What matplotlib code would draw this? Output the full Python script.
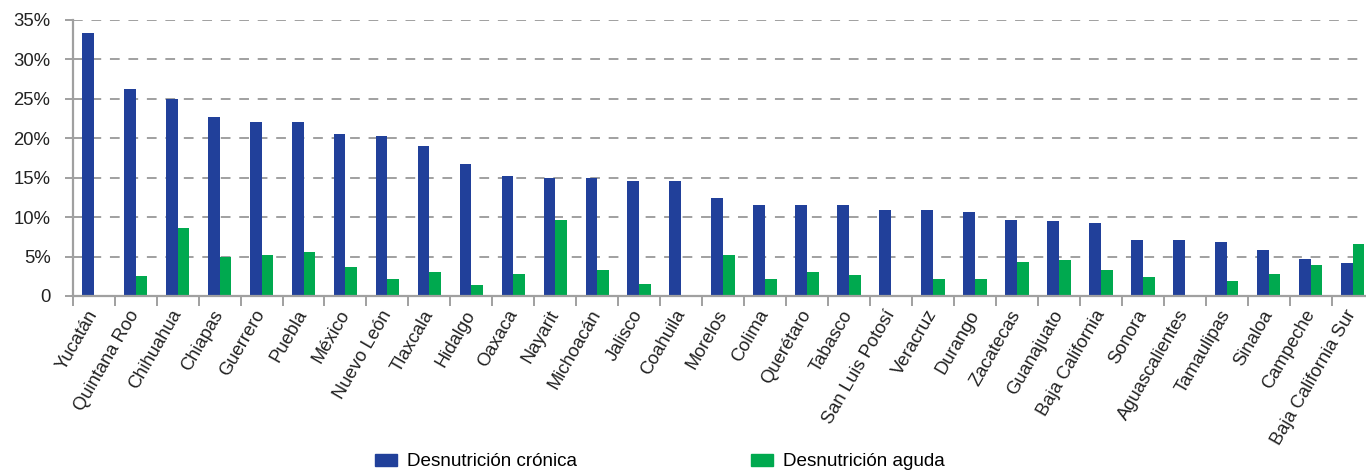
import matplotlib
matplotlib.use("Agg")
import matplotlib.pyplot as plt
import numpy as np
from matplotlib.ticker import FixedLocator, FuncFormatter
from matplotlib.patches import Patch

estados = ["Yucatán", "Quintana Roo", "Chihuahua", "Chiapas", "Guerrero", "Puebla",
           "México", "Nuevo León", "Tlaxcala", "Hidalgo", "Oaxaca", "Nayarit",
           "Michoacán", "Jalisco", "Coahuila", "Morelos", "Colima", "Querétaro",
           "Tabasco", "San Luis Potosí", "Veracruz", "Durango", "Zacatecas",
           "Guanajuato", "Baja California", "Sonora", "Aguascalientes",
           "Tamaulipas", "Sinaloa", "Campeche", "Baja California Sur"]
cronica = [33.4, 26.2, 25.0, 22.7, 22.1, 22.1, 20.5, 20.3, 19.0, 16.7, 15.2, 15.0,
           15.0, 14.6, 14.6, 12.4, 11.5, 11.5, 11.5, 10.9, 10.9, 10.6, 9.6,
           9.5, 9.3, 7.1, 7.1, 6.8, 5.8, 4.7, 4.2]
aguda = [0.0, 2.5, 8.6, 5.0, 5.2, 5.6, 3.7, 2.2, 3.0, 1.4, 2.8, 9.6,
         3.3, 1.5, 0.0, 5.2, 2.2, 3.0, 2.7, 0.0, 2.2, 2.2, 4.3,
         4.6, 3.3, 2.4, 0.0, 1.9, 2.8, 3.9, 6.6]
yticks = [0, 5, 10, 15, 20, 25, 30, 35]
serie_labels = ["Desnutrición crónica", "Desnutrición aguda"]

BLUE = "#21409A"
GREEN = "#00A94F"
GRAY = "#A0A0A0"

plt.rcParams['font.family'] = ['Liberation Sans', 'DejaVu Sans']

W, H = 1366, 471
fig = plt.figure(figsize=(W / 100, H / 100), dpi=100)
n = len(estados)
# axes extends slightly past the right edge of the figure, like the reference
ax = fig.add_axes([72.7 / W, 1 - 296 / H, (1373.6 - 72.7) / W, 276 / H])

x = np.arange(n)
bw = 0.28
ax.bar(x - bw / 2, cronica, width=bw, color=BLUE, zorder=3)
ax.bar(x + bw / 2, aguda, width=bw, color=GREEN, zorder=3)

ax.set_xlim(-0.5, n - 0.5)
ax.set_ylim(0, 35)

ax.set_yticks(yticks)
ax.yaxis.set_major_formatter(FuncFormatter(lambda v, p: "0" if v == 0 else f"{int(v)}%"))
ax.tick_params(axis='y', length=6, width=1.4, color=GRAY, pad=10, labelsize=13.3,
               labelcolor="#222222")
for v in yticks[1:]:
    ax.axhline(v, color=GRAY, lw=1.4, dashes=(5, 4.5), zorder=1)

ax.set_xticks(x)
ax.set_xticklabels(estados, rotation=60, ha='right', va='center',
                   rotation_mode='anchor', fontsize=13.2, color="#222222")
ax.tick_params(axis='x', which='major', length=0, pad=11)
ax.xaxis.set_minor_locator(FixedLocator(np.arange(-0.5, n, 1.0)))
ax.tick_params(axis='x', which='minor', length=7.2, width=1.4, color=GRAY)

for s in ['top', 'right']:
    ax.spines[s].set_visible(False)
for s in ['left', 'bottom']:
    ax.spines[s].set_color(GRAY)
    ax.spines[s].set_linewidth(1.6)
    ax.spines[s].set_zorder(4)

handles = [Patch(color=BLUE), Patch(color=GREEN)]
fig.legend(handles, serie_labels, loc='center left',
           bbox_to_anchor=(375 / W, 1 - 462 / H), ncol=2, frameon=False,
           fontsize=13.6, handlelength=1.18, handleheight=0.65, handletextpad=0.53,
           columnspacing=9.2, borderpad=0, borderaxespad=0)

fig.savefig("out.png", dpi=100)
